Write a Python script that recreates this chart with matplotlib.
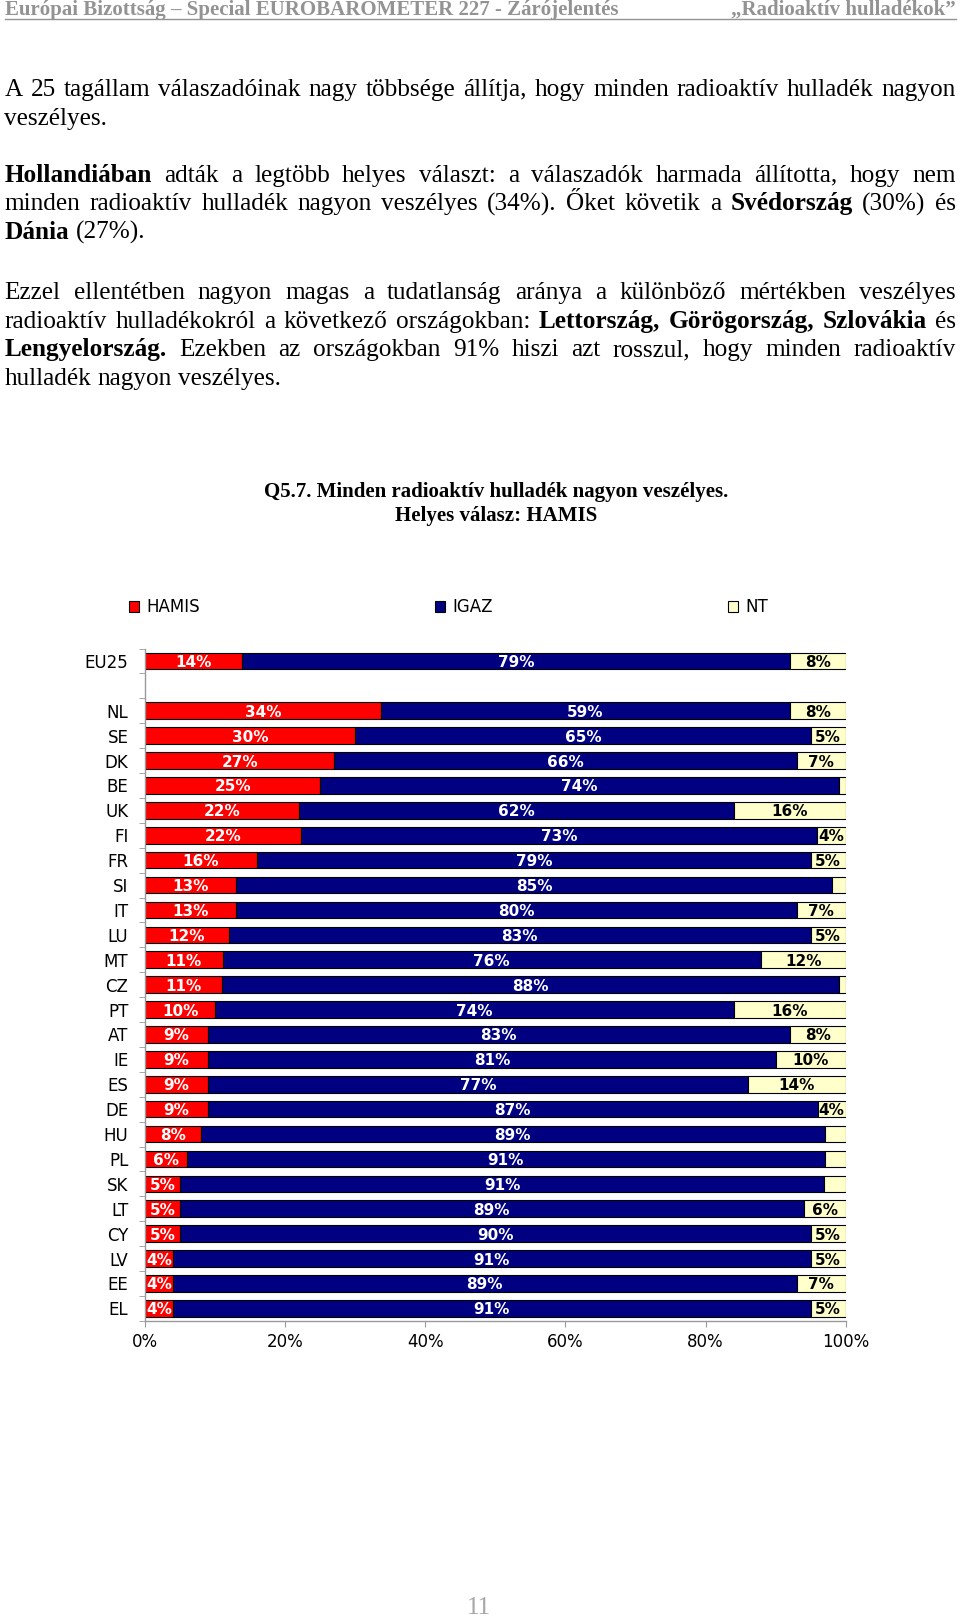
import numpy as np
import matplotlib
matplotlib.use("Agg")
import matplotlib.pyplot as plt

W, H = 960, 1617
SERIF = "Liberation Serif"
SANS = "DejaVu Sans"

# --- data -------------------------------------------------------------
countries = ["EU25", "NL", "SE", "DK", "BE", "UK", "FI", "FR", "SI", "IT", "LU", "MT", "CZ",
             "PT", "AT", "IE", "ES", "DE", "HU", "PL", "SK", "LT", "CY", "LV", "EE", "EL"]
hamis = [14, 34, 30, 27, 25, 22, 22, 16, 13, 13, 12, 11, 11, 10, 9, 9, 9, 9, 8, 6, 5, 5, 5, 4, 4, 4]
igaz = [79, 59, 65, 66, 74, 62, 73, 79, 85, 80, 83, 76, 88, 74, 83, 81, 77, 87, 89, 91, 91, 89, 90, 91, 89, 91]
nt = [8, 8, 5, 7, 1, 16, 4, 5, 2, 7, 5, 12, 1, 16, 8, 10, 14, 4, 3, 3, 3, 6, 5, 5, 7, 5]
series = ["HAMIS", "IGAZ", "NT"]
colors = ["#FF0000", "#000080", "#FFFFCC"]
txtcol = ["white", "white", "black"]
xticks = [0, 20, 40, 60, 80, 100]

header_left = "Európai Bizottság – Special EUROBAROMETER 227 - Zárójelentés"
header_right = "„Radioaktív hulladékok”"
paragraphs = [
    ["A 25 tagállam válaszadóinak nagy többsége állítja, hogy minden radioaktív hulladék nagyon",
     "veszélyes."],
    ["*Hollandiában* adták a legtöbb helyes választ: a válaszadók harmada állította, hogy nem",
     "minden radioaktív hulladék nagyon veszélyes (34%). Őket követik a *Svédország* (30%) és",
     "*Dánia* (27%)."],
    ["Ezzel ellentétben nagyon magas a tudatlanság aránya a különböző mértékben veszélyes",
     "radioaktív hulladékokról a következő országokban: *Lettország,* *Görögország,* *Szlovákia* és",
     "*Lengyelország.* Ezekben az országokban 91% hiszi azt rosszul, hogy minden radioaktív",
     "hulladék nagyon veszélyes."],
]
par_y = [96, 181.7, 299.2]
title1 = "Q5.7. Minden radioaktív hulladék nagyon veszélyes."
title2 = "Helyes válasz: HAMIS"
page_no = "11"
BODY = 18.2


def fx(x):
    return x / W


def fy(y):
    return 1 - y / H


fig = plt.figure(figsize=(W / 100, H / 100), dpi=100)
rend = fig.canvas.get_renderer()

# header
fig.text(fx(5), fy(15), header_left, fontsize=15, fontweight="bold", family=SERIF,
         color="#939393", va="baseline")
fig.text(fx(956), fy(15), header_right, fontsize=15, fontweight="bold", family=SERIF,
         color="#939393", va="baseline", ha="right")
fig.add_artist(plt.Line2D([fx(5), fx(956)], [fy(19), fy(19)], color="#939393", lw=1))

# justified paragraphs
tmp1 = fig.text(0, 0, "a a", fontsize=BODY, family=SERIF)
tmp2 = fig.text(0, 0, "aa", fontsize=BODY, family=SERIF)
space = tmp1.get_window_extent(rend).width - tmp2.get_window_extent(rend).width
tmp1.remove()
tmp2.remove()


def text_line(line, y, justify, x0=4.5, x1=956):
    words = [(w.strip("*"), "bold" if w.startswith("*") else "normal") for w in line.split()]
    arts = [fig.text(fx(x0), fy(y), w, fontsize=BODY, fontweight=wt, family=SERIF, va="baseline")
            for w, wt in words]
    widths = [a.get_window_extent(rend).width for a in arts]
    gap = (x1 - x0 - sum(widths)) / (len(words) - 1) if justify else space
    x = x0
    for a, w in zip(arts, widths):
        a.set_x(fx(x))
        x += w + gap


for lines, y0 in zip(paragraphs, par_y):
    for k, line in enumerate(lines):
        text_line(line, y0 + k * 28.6, k < len(lines) - 1)

# chart title
fig.text(fx(496), fy(496.7), title1, fontsize=15, fontweight="bold", family=SERIF,
         ha="center", va="baseline")
fig.text(fx(496), fy(521.5), title2, fontsize=15, fontweight="bold", family=SERIF,
         ha="center", va="baseline")

# --- chart ------------------------------------------------------------
ax = fig.add_axes([fx(145), fy(1320.8), (845.7 - 145) / W, (1320.8 - 648.5) / H])
pos = np.array([0] + list(range(2, len(countries) + 1)))
vals = np.array([hamis, igaz, nt], dtype=float)
pct = vals / vals.sum(axis=0) * 100
left = np.zeros(len(countries))
bars = []
for s in range(3):
    b = ax.barh(pos, pct[s], left=left, height=0.67, color=colors[s], edgecolor="black",
                linewidth=0.8, label=series[s])
    bars.append(b)
    for p, l, w, v in zip(pos, left, pct[s], vals[s]):
        if v >= 4:
            ax.text(l + w / 2, p, f"{v:.0f}%", ha="center", va="center_baseline", color=txtcol[s],
                    fontsize=11, fontweight="bold", family=SANS)
    left = left + pct[s]

ax.set_xlim(0, 100)
ax.set_ylim(len(countries) + 0.5, -0.5)
ax.set_yticks(pos, countries, fontsize=12, family=SANS)
ax.set_yticks(np.arange(-0.5, len(countries) + 1, 1), minor=True)
ax.tick_params(axis="y", which="major", length=0, pad=12)
ax.tick_params(axis="y", which="minor", length=4, color="#999999", direction="out")
ax.set_xticks(xticks, [f"{v}%" for v in xticks], fontsize=12, family=SANS)
ax.tick_params(axis="x", length=4, color="#999999", pad=5)
for side in ["top", "right"]:
    ax.spines[side].set_visible(False)
for side in ["left", "bottom"]:
    ax.spines[side].set_color("#999999")
    ax.spines[side].set_linewidth(1)

fig.legend(handles=bars, labels=series, loc="center left", bbox_to_anchor=(fx(128.7), fy(607)),
           ncol=3, frameon=False, borderpad=0, borderaxespad=0, handlelength=0.63,
           handleheight=0.63, handletextpad=0.42, columnspacing=14.1,
           prop={"family": SANS, "size": 12})

# page number
fig.text(fx(479), fy(1614), page_no, fontsize=18, family=SERIF, color="#a6a6a6",
         ha="center", va="baseline")

fig.savefig("out.png", dpi=100)
